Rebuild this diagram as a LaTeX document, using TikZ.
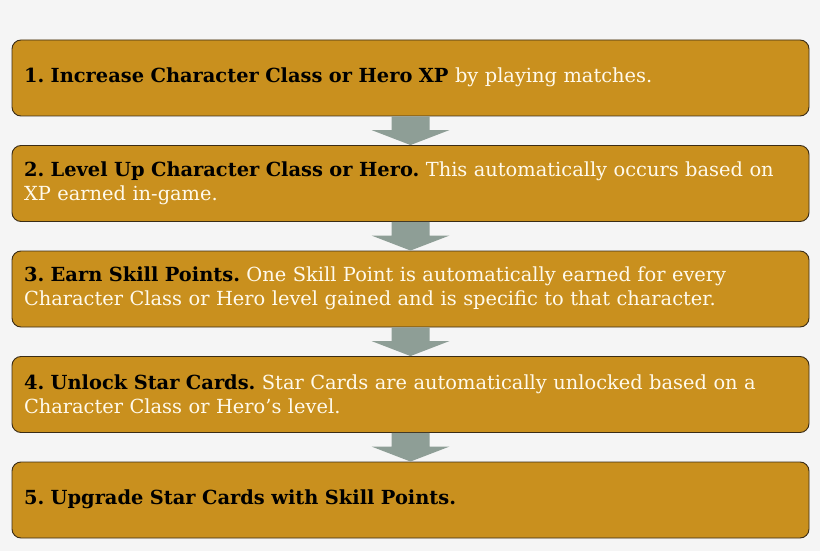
\documentclass[tikz,border=0pt]{standalone}
\usepackage{fontspec}
\setmainfont{DejaVu Serif}
\usepackage{xcolor}
\usepackage{tikz}
\usetikzlibrary{positioning}
\usetikzlibrary{calc}

\definecolor{gold}{RGB}{201,144,30}
\definecolor{edgebrown}{RGB}{58,44,22}
\definecolor{arrowgray}{RGB}{142,158,150}
\definecolor{paper}{RGB}{245,245,245}
\definecolor{cream}{RGB}{255,250,236}

\newcommand{\steptitle}[1]{\textcolor{black}{\textbf{#1}}}
\frenchspacing

\tikzset{
  stepbox/.style={draw=edgebrown, line width=0.9pt, fill=gold, rounded corners=9pt,
    minimum width=797pt, minimum height=76pt, text width=773pt, inner xsep=12pt,
    align=left, text=cream, font=\fontsize{19.4}{23.6}\selectfont,
    execute at end node={\par\vspace*{1pt}}},
  flow/.style={fill=arrowgray}
}

\begin{document}
\begin{tikzpicture}[x=1pt,y=1pt,node distance=105.5pt,on grid]
   \fill[paper] (0,0) rectangle (820,-551);
   \useasboundingbox (0,0) rectangle (820,-551);
   \node[stepbox] (s1) at (410.5,-78) {\steptitle{1. Increase Character Class or Hero XP} by playing matches.};
   \node[stepbox] (s2) [below=of s1] {\steptitle{2. Level Up Character Class or Hero.} This automatically occurs based on\\XP earned in-game.};
   \node[stepbox] (s3) [below=of s2] {\steptitle{3. Earn Skill Points.} One Skill Point is automatically earned for every\\Character Class or Hero level gained and is specific to that character.};
   \node[stepbox] (s4) [below=of s3] {\steptitle{4. Unlock Star Cards.} Star Cards are automatically unlocked based on a\\Character Class or Hero's level.};
   \node[stepbox] (s5) [below=of s4] {\steptitle{5. Upgrade Star Cards with Skill Points.}};
   % block arrows between the steps
   \foreach \a/\b in {s1/s2,s2/s3,s3/s4,s4/s5}
     \fill[flow] ($(\a.south)+(-19,0)$) -- ($(\b.north)+(-19,15)$) -- ($(\b.north)+(-39,15)$)
        -- (\b.north) -- ($(\b.north)+(39,15)$) -- ($(\b.north)+(19,15)$)
        -- ($(\a.south)+(19,0)$) -- cycle;
\end{tikzpicture}
\end{document}
